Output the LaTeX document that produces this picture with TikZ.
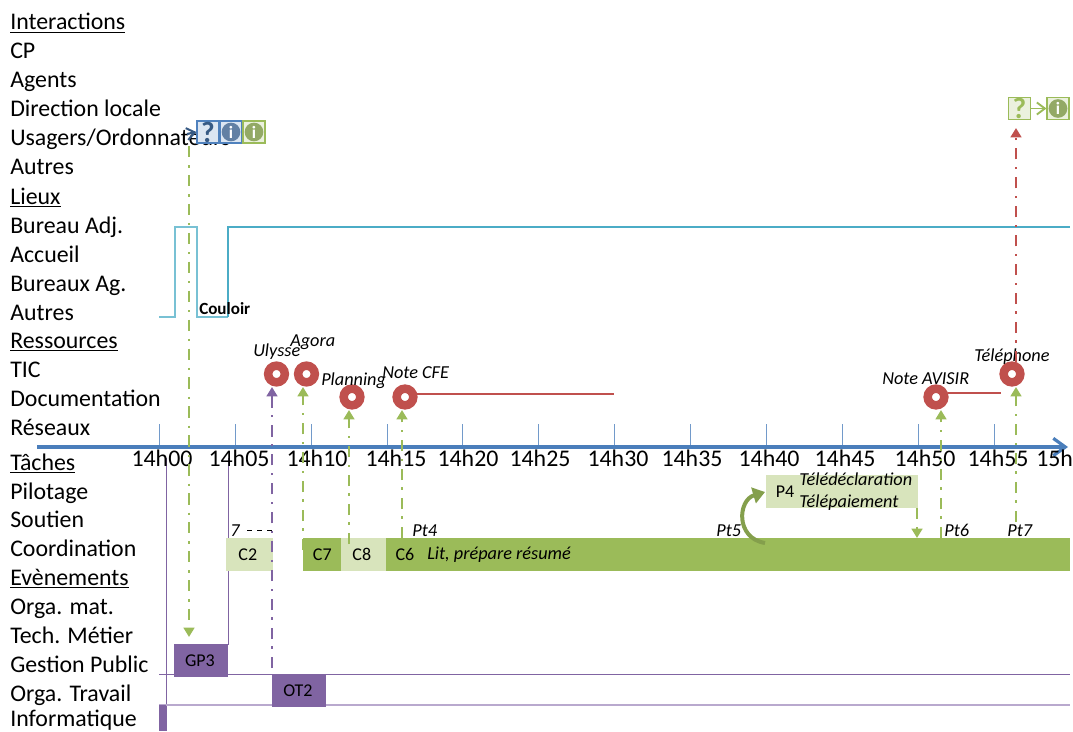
\documentclass[tikz,border=0pt]{standalone}
\usepackage{fontspec}
\setmainfont{Carlito}
\usetikzlibrary{arrows.meta}
\definecolor{axisblue}{HTML}{4A7EBB}
\definecolor{tickblue}{HTML}{4F81BD}
\definecolor{lteal}{HTML}{4BACC6}
\definecolor{vgreen}{HTML}{9BBB59}
\definecolor{pgreen}{HTML}{D8E4BC}
\definecolor{vpurple}{HTML}{8064A2}
\definecolor{lpurple}{HTML}{B9A9CE}
\definecolor{vred}{HTML}{C0504D}
\definecolor{iblue}{HTML}{DCE6F2}
\definecolor{iblueb}{HTML}{4F81BD}
\definecolor{igreen}{HTML}{EBF1DE}
\tikzset{
  x=0.75pt,y=-0.75pt,
  lab/.style={anchor=base west,inner sep=0pt,font=\fontsize{17.9}{20}\selectfont},
  ticklab/.style={anchor=base,inner sep=0pt,font=\fontsize{17.9}{20}\selectfont},
  note/.style={anchor=base west,inner sep=0pt,font=\fontsize{13.7}{15}\selectfont\itshape},
  task/.style={anchor=north west,inner sep=0pt,minimum width=#1*0.75pt,minimum height=24.75pt,font=\fontsize{13.5}{15}\selectfont},
  res/.style={circle,draw=vred,line width=6.4pt,fill=white,minimum size=12.5pt,inner sep=0pt},
  dd/.style={line width=2pt,dash pattern=on 8.5pt off 6pt on 1.7pt off 5.5pt},
  tipg/.style={-{Triangle[width=8pt,length=7pt]}},
  icb/.style={draw=iblueb,fill=iblue,line width=0.9pt,minimum size=16.5pt,inner sep=0pt},
  icg/.style={draw=vgreen,fill=igreen,line width=0.9pt,minimum size=16.5pt,inner sep=0pt},
  qm/.style={font=\fontsize{22}{22}\selectfont\bfseries},
  info/.style={circle,minimum size=14pt,inner sep=0pt,fill=#1,text=white,font=\fontsize{13}{13}\selectfont\bfseries},
}
\begin{document}
\begin{tikzpicture}
\useasboundingbox (0,0) rectangle (1073,731);
% left labels
\foreach \n/\y/\t in {a/23/\underline{Interactions},b/52/CP,c/81/Agents,d/110/Direction locale,e/139/{Usagers/Ordonnateurs},f/168/Autres,g/197/\underline{Lieux},h/226/Bureau Adj.,i/255/Accueil,j/284/Bureaux Ag.,k/313/Autres,l/341/\underline{Ressources},m/370/TIC,n/399/Documentation,o/428/Réseaux,p/463/\underline{Tâches},q/492/Pilotage,r/520/Soutien,s/549/Coordination,t/578/\underline{Evènements},u/607/Orga. mat.,v/636/Tech. Métier,w/665/Gestion Public,x/694/Orga. Travail,y/719/Informatique}
  \node[lab] (lab\n) at (10,\y+7) {\t};
% location step line
\coordinate (l0) at (159,317);
\coordinate (l1) at (1070,227);
\draw[lteal!75,line width=0.9pt] (l0) -- (175,317) -- (175,227) -- (197,227) -- (197,317) -- (228,317);
\draw[lteal,line width=1.5pt] (228,317) -- (228,227) -- (l1);
\node[anchor=base west,inner sep=0pt,font=\fontsize{12.8}{14}\selectfont\bfseries] (couloir) at (199,314) {Couloir};
% purple grid
\coordinate (v1a) at (166,458); \coordinate (v1b) at (166,731);
\coordinate (v2a) at (228,458); \coordinate (v2b) at (228,645);
\coordinate (h1a) at (159,674.5); \coordinate (h1b) at (1070,674.5);
\coordinate (h2a) at (159,705); \coordinate (h2b) at (1070,705);
\draw[vpurple,line width=0.6pt] (v1a) -- (v1b);
\draw[vpurple,line width=0.6pt] (v2a) -- (v2b);
\draw[vpurple,line width=0.7pt] (h1a) -- (h1b);
\draw[lpurple,line width=1.2pt] (h2a) -- (h2b);
% axis
\foreach \i/\x in {0/159,1/235,2/311,3/387,4/462,5/538,6/614,7/690,8/766,9/842,10/918,11/994}{
  \coordinate (ta\i) at (\x,424); \coordinate (tb\i) at (\x,447);
  \draw[tickblue!80,line width=0.6pt] (ta\i) -- (tb\i);
}
\coordinate (ax0) at (37,447); \coordinate (ax1) at (1068,447);
\draw[axisblue,line width=2.6pt,-{Straight Barb[length=9pt,width=13pt,line width=2.4pt]}] (ax0) -- (ax1);
\foreach \i/\x/\t in {0/162/14h00,1/239/14h05,2/317/14h10,3/396/14h15,4/468/14h20,5/540/14h25,6/618/14h30,7/692/14h35,8/769/14h40,9/845/14h45,10/925/14h50,11/998/14h55}
  \node[ticklab] (tl\i) at (\x,466) {\t};
\node[anchor=base west,inner sep=0pt,font=\fontsize{17.9}{20}\selectfont] (tl12) at (1036,466) {15h};
% tasks
\node[task=54,fill=vpurple] (GP3) at (174,644) {\hspace*{-2pt}GP3};
\node[task=54,fill=vpurple] (OT2) at (272,674) {\hspace*{-2pt}OT2};
\node[anchor=north west,inner sep=0pt,minimum width=5.25pt,minimum height=19.5pt,fill=vpurple] (info) at (159,705) {};
\node[task=47,fill=pgreen] (C2) at (226,538) {\hspace*{-3pt}C2};
\node[task=38,fill=vgreen] (C7) at (303,538) {C7};
\node[task=45,fill=pgreen] (C8) at (341,538) {\hspace*{-3pt}C8};
\node[anchor=north west,inner sep=0pt,minimum width=513pt,minimum height=24.75pt,fill=vgreen] (C6bar) at (386,538) {};
\node[anchor=base,inner sep=0pt,font=\fontsize{13.5}{15}\selectfont] (C6) at (405,560) {C6};
\node[note] (lit) at (427,559) {Lit, prépare résumé};
\node[anchor=north west,inner sep=0pt,minimum width=114pt,minimum height=24.75pt,fill=pgreen] (P4box) at (766,475) {};
\node[anchor=base,inner sep=0pt,font=\fontsize{13.5}{15}\selectfont] (P4) at (785,497) {P4};
\node[note] (tele) at (799,485) {Télédéclaration};
\node[note] (telp) at (799,507) {Télépaiement};
% small notes
\node[note] (n7) at (230,536) {7};
\node[note] (pt4) at (412,536) {Pt4};
\node[note] (pt5) at (716,536) {Pt5};
\node[note] (pt6) at (944,536) {Pt6};
\node[note] (pt7) at (1007,536) {Pt7};
\coordinate (d7a) at (247,530); \coordinate (d7b) at (272,530);
\draw[black,line width=0.6pt,dash pattern=on 4pt off 3.5pt] (d7a) -- (d7b);
% resources
\node[res] (ulysse) at (276.5,374) {};
\node[res] (agora) at (306.5,374) {};
\node[res] (planning) at (352,397) {};
\node[res] (cfe) at (405,397) {};
\node[res] (avisir) at (936,397) {};
\node[res] (tel) at (1012,374) {};
\node[note] (tu) at (253,356) {Ulysse};
\node[note] (ta) at (290,346) {Agora};
\node[note] (tp) at (321,385) {Planning};
\node[note] (tc) at (382,378) {Note CFE};
\node[note] (tav) at (882,384) {Note AVISIR};
\node[note] (tt) at (974,361) {Téléphone};
\coordinate (ecfe) at (614,394);
\coordinate (eav) at (1001,393);
\draw[vred,line width=1.5pt] (cfe.center) ++(12,-3) -- (ecfe);
\draw[vred,line width=1.5pt] (avisir.center) ++(12,-4) -- (eav);
% icons left
\node[icb] (q1) at (208,132) {};
\node[qm,text=iblueb!70!black] (q1t) at (208,132) {?};
\node[icb] (i1) at (231,132) {};
\node[info=iblueb!60!gray] (i1t) at (231,132) {i};
\node[icg] (i2) at (254,132) {};
\node[info=vgreen!70!gray] (i2t) at (254,132) {i};
\coordinate (bs) at (187,134);
\draw[iblueb!70!black,line width=1.6pt,-{Straight Barb[length=6pt,width=9pt,line width=1.5pt]}] (bs) -- (q1.west);
% icons right
\node[icg] (q2) at (1019.5,108.5) {};
\node[qm,text=vgreen] (q2t) at (1019.5,108.5) {?};
\node[icg] (i3) at (1058,108.5) {};
\node[info=vgreen!70!gray] (i3t) at (1058,108.5) {i};
\draw[vgreen,line width=1.4pt,-{Straight Barb[length=6pt,width=9pt,line width=1.4pt]}] (q2) -- (i3);
% dash-dot connectors
\coordinate (g0) at (189,146);
\coordinate (g1) at (189,637);
\draw[vgreen,dd,tipg] (g0) -- (g1);
\coordinate (pu0) at (272,668);
\coordinate (pu1) at (272,387);
\draw[vpurple,dd,tipg] (pu0) -- (pu1);
\coordinate (c0) at (303,550);
\coordinate (c1) at (303,387);
\draw[vgreen,dd,tipg] (c0) -- (c1);
\coordinate (c2) at (349,544);
\coordinate (c3) at (349,410);
\draw[vgreen,dd,tipg] (c2) -- (c3);
\coordinate (c4) at (402,538);
\coordinate (c5) at (402,410);
\draw[vgreen,dd,tipg] (c4) -- (c5);
\coordinate (c6) at (941,538);
\coordinate (c7) at (941,410);
\draw[vgreen,dd,tipg] (c6) -- (c7);
\coordinate (c8) at (1016,522);
\coordinate (c9) at (1016,387);
\draw[vgreen,dd,tipg] (c8) -- (c9);
\coordinate (r0) at (1016,362);
\coordinate (r1) at (1016,128);
\draw[vred,dd,tipg] (r0) -- (r1);
\coordinate (p0) at (917,508);
\coordinate (p1) at (917,538);
\draw[vgreen,dd,tipg] (p0) -- (p1);
% curved arrow
\coordinate (ca0) at (765,543);
\coordinate (ca1) at (765,492);
\draw[vgreen!85!black,line width=3pt,-{Triangle[length=9pt,width=12pt]}] (ca0) .. controls (735,538) and (738,500) .. (ca1);
\end{tikzpicture}
\end{document}
